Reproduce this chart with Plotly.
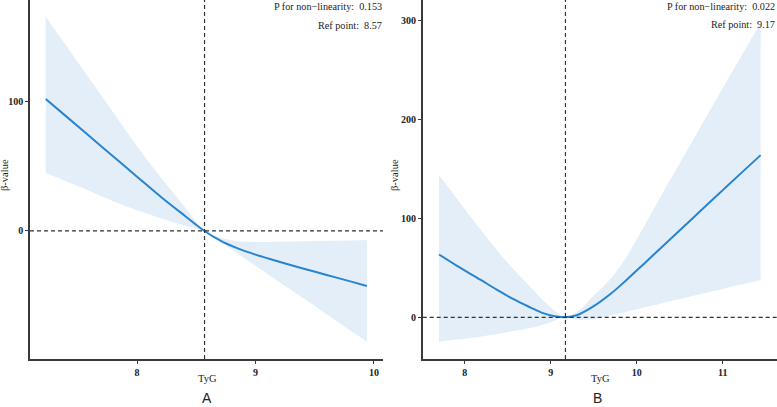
import plotly.graph_objects as go

W, H = 777, 407

# ---------------- data ----------------
# Panel A
xA = [7.23, 7.4, 7.6, 7.8, 8.0, 8.2, 8.4, 8.57, 8.7, 8.85, 9.0, 9.2, 9.4, 9.6, 9.8, 9.94]
fitA = [102, 88.8, 73.2, 57.6, 42, 26.5, 12, 0, -7.3, -13.5, -18.3, -23.8, -29, -34, -39, -42.5]
upA = [165.7, 143.6, 117.6, 91.6, 65.6, 41.5, 19, 0, -5, -8, -8.5, -8.3, -8, -7.6, -7.3, -7]
loA = [44.8, 38.5, 31, 23, 16, 9.8, 4.3, 0, -8.1, -17.5, -26.9, -39.4, -51.9, -64.4, -76.9, -85.6]
refA = 8.57
pA = "0.153"

# Panel B
xB = [7.70, 7.9, 8.18, 8.37, 8.56, 8.76, 8.9, 9.06, 9.17, 9.3, 9.49, 9.7, 9.88, 10.1,
      10.27, 10.5, 10.66, 10.81, 11.0, 11.2, 11.44]
fitB = [63.5, 52.5, 38, 28, 18.5, 10, 4.5, 0.8, 0, 2, 10.7, 24, 37.7, 55.5,
        69.3, 88, 101, 113.2, 128.6, 144.8, 164]
upB = [144, 121, 89, 68, 49, 31, 18, 5.5, 0, 5, 21, 39.5, 61, 94.5,
       121, 156, 180, 203, 232, 262, 298]
loB = [-24.7, -22.6, -19.6, -16.9, -14, -10.8, -7.5, -3, 0, -2.5, -2, 2, 5.7, 10.2,
       13.7, 18.4, 21.7, 24.8, 28.7, 32.8, 37.7]
refB = 9.17
pB = "0.022"

xticksA = [8, 9, 10]
yticksA = [0, 100]
xticksB = [8, 9, 10, 11]
yticksB = [0, 100, 200, 300]

# ---------------- styling ----------------
LINE = "rgb(40,132,206)"
BAND = "rgb(227,238,248)"
AX = "#3a3a3a"
SERIF = "Liberation Serif"
SANS = "Liberation Sans"
NB = "\u00a0"

fig = go.Figure()


def add_panel(x, fit, up, lo, xa, ya):
    fig.add_trace(go.Scatter(x=x, y=lo, mode="lines", line=dict(width=0, shape="spline"),
                             xaxis=xa, yaxis=ya, showlegend=False, hoverinfo="skip"))
    fig.add_trace(go.Scatter(x=x, y=up, mode="lines", line=dict(width=0, shape="spline"),
                             fill="tonexty", fillcolor=BAND,
                             xaxis=xa, yaxis=ya, showlegend=False, hoverinfo="skip"))
    fig.add_trace(go.Scatter(x=x, y=fit, mode="lines",
                             line=dict(color=LINE, width=2, shape="spline"),
                             xaxis=xa, yaxis=ya, showlegend=False))


add_panel(xA, fitA, upA, loA, "x", "y")
add_panel(xB, fitB, upB, loB, "x2", "y2")

ydom = [48 / H, 1]
xrA = [7.097, 10.076]
yrA = [-99, 178.6]
xrB = [7.51, 11.63]
yrB = [-42.2, 320.9]

tickfont = dict(family=SERIF, size=10, color="#222", weight="bold")
common = dict(showline=True, linecolor=AX, linewidth=1.5, ticks="outside", ticklen=3,
              tickwidth=1, tickcolor=AX, showgrid=False, zeroline=False,
              tickfont=tickfont, fixedrange=True)

fig.update_layout(
    width=W, height=H,
    margin=dict(l=0, r=0, t=0, b=0),
    plot_bgcolor="white", paper_bgcolor="white",
    xaxis=dict(domain=[30 / W, 383 / W], range=xrA, anchor="y", tickvals=xticksA, **common),
    yaxis=dict(domain=ydom, range=yrA, anchor="x", tickvals=yticksA, **common),
    xaxis2=dict(domain=[422.7 / W, 1], range=xrB, anchor="y2", tickvals=xticksB, **common),
    yaxis2=dict(domain=ydom, range=yrB, anchor="x2", tickvals=yticksB, **common),
)

dash = dict(color="#333", width=1.2, dash="4px,3px")
shapes = [
    dict(type="line", xref="x", yref="y", x0=xrA[0], x1=xrA[1], y0=0, y1=0, line=dash),
    dict(type="line", xref="x", yref="y", x0=refA, x1=refA, y0=yrA[0], y1=yrA[1], line=dash),
    dict(type="line", xref="x2", yref="y2", x0=xrB[0], x1=xrB[1], y0=0, y1=0, line=dash),
    dict(type="line", xref="x2", yref="y2", x0=refB, x1=refB, y0=yrB[0], y1=yrB[1], line=dash),
]
fig.update_layout(shapes=shapes)


def ann(text, px, py, size, family=SERIF, xanchor="center", textangle=0):
    fig.add_annotation(text=text, x=px / W, y=1 - py / H, xref="paper", yref="paper",
                       showarrow=False, xanchor=xanchor, yanchor="middle",
                       textangle=textangle,
                       font=dict(family=family, size=size, color="#222"))


ann("P for non\u2212linearity:" + NB + NB + pA, 384, 6, 10.2, xanchor="right")
ann("Ref point:" + NB + NB + f"{refA:.2f}", 384, 25, 10.2, xanchor="right")
ann("P for non\u2212linearity:" + NB + NB + pB, 777, 6, 10.2, xanchor="right")
ann("Ref point:" + NB + NB + f"{refB:.2f}", 777, 24, 10.2, xanchor="right")

ann("\u03b2-value", 5, 175, 10.5, textangle=-90)
ann("\u03b2-value", 395, 175, 10.5, textangle=-90)
ann("TyG", 207, 378, 10.5)
ann("TyG", 600, 378, 10.5)
ann("A", 207, 398, 14, family=SANS)
ann("B", 597, 398, 14, family=SANS)

fig.write_html("out.html")
